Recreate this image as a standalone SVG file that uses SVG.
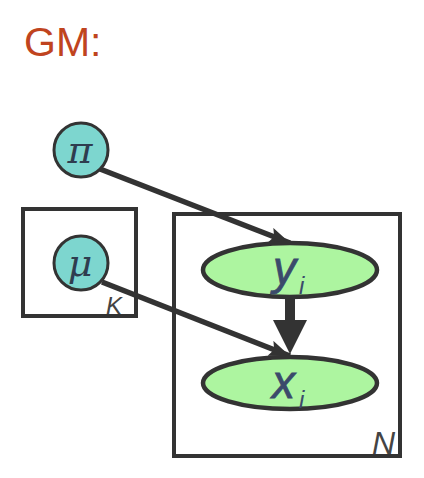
<svg xmlns="http://www.w3.org/2000/svg" width="424" height="478" viewBox="0 0 424 478">
<defs>
<style>
.plate{fill:none;stroke:#333;stroke-width:4}
.circ{fill:#7dd6cf;stroke:#333;stroke-width:3}
.ell{fill:#adf5a0;stroke:#333;stroke-width:4.5}
.edge{stroke:#333;stroke-width:5.5;fill:none}
.greek{font-family:"DejaVu Serif","Liberation Serif",serif;font-style:italic;fill:#2f3d4f;font-size:38px;text-anchor:middle}
.var{font-family:"Liberation Sans",Arial,sans-serif;font-style:italic;fill:#3b4a6b}
.plab{font-family:"Liberation Sans",Arial,sans-serif;font-style:italic;fill:#444}
</style>
<marker id="ah" markerUnits="userSpaceOnUse" markerWidth="24" markerHeight="18" refX="21" refY="8" orient="auto">
<path d="M0,0 L21,8 L0,16 L4,8 Z" fill="#333"/>
</marker>
</defs>
<rect width="424" height="478" fill="#fff"/>
<text x="24" y="56" font-family="Liberation Sans,Arial,sans-serif" font-size="41" fill="#c0441e">GM:</text>
<g id="plateK"><rect class="plate" x="23" y="209" width="113" height="107"/><text class="plab" x="106" y="314" font-size="24">K</text></g>
<g id="plateN"><rect class="plate" x="174" y="214" width="226" height="242"/><text class="plab" x="372" y="454" font-size="32">N</text></g>
<g id="connectors">
<line class="edge" x1="100" y1="169" x2="290" y2="243" marker-end="url(#ah)"/>
<line class="edge" x1="102" y1="282" x2="290" y2="356" marker-end="url(#ah)"/>
<path d="M285,297 L295,297 L295,320 L307,320 L290,354 L273,320 L285,320 Z" fill="#333"/>
</g>
<g id="pi"><circle class="circ" cx="81" cy="150" r="27"/><text class="greek" x="80" y="163">π</text></g>
<g id="mu"><circle class="circ" cx="81" cy="263" r="27"/><text class="greek" x="80" y="276">μ</text></g>
<g id="y"><ellipse class="ell" cx="290" cy="270" rx="87" ry="27"/><text class="var" x="273" y="284" font-size="46" stroke="#3b4a6b" stroke-width="0.8">y</text><text class="var" x="299" y="294" font-size="24">i</text></g>
<g id="x"><ellipse class="ell" cx="290" cy="383" rx="87" ry="26"/><text class="var" x="272" y="398" font-size="46" stroke="#3b4a6b" stroke-width="0.8">x</text><text class="var" x="299" y="408" font-size="24">i</text></g>
</svg>
